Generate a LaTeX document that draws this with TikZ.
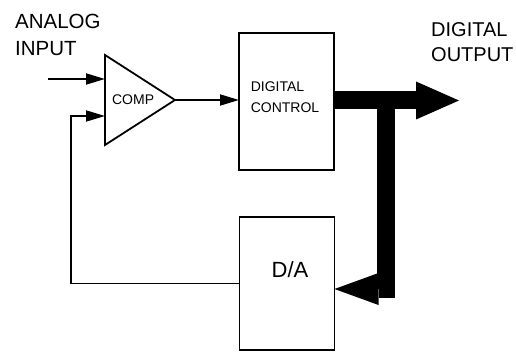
\documentclass[tikz,border=0pt]{standalone}
\usepackage{fontspec}
\setmainfont{Liberation Sans}
\usetikzlibrary{arrows.meta,positioning,shapes.geometric,calc}
\tikzset{
  block/.style={rectangle,draw,line width=1.8pt,inner sep=0pt,outer sep=0pt},
  comparator/.style={isosceles triangle,isosceles triangle stretches,draw,line width=1.8pt,
    minimum width=90pt,minimum height=70pt,inner sep=0pt,outer sep=0pt,
    font=\fontsize{14}{16}\selectfont},
  sig/.style={draw,line width=1.8pt,-{Triangle[length=19pt,width=11pt]}},
  bus/.style={draw,line width=18pt},
  bigtext/.style={font=\fontsize{20.5}{27}\selectfont,align=left,inner sep=0pt},
  smalltext/.style={font=\fontsize{14}{21}\selectfont,align=left,inner sep=0pt},
}
\begin{document}
\begin{tikzpicture}[x=1pt,y=-1pt]
  \useasboundingbox (0,0) rectangle (516,352);

  % labels
  \node[bigtext,anchor=north west] (ain) at (15,14) {ANALOG\\INPUT};
  \node[bigtext,anchor=north west,font=\fontsize{20}{25}\selectfont] (dlbl) at (431,22) {DIGITAL\\OUTPUT};

  % comparator, control logic and converter
  \node[comparator,anchor=west] (comp) at (105,100) {COMP};
  \node[block,minimum width=95pt,minimum height=137pt] (dc) at (286.5,101.5) {};
  \node[smalltext] at (285,97.5) {DIGITAL\\CONTROL};
  \node[block,minimum width=95pt,minimum height=133pt] (da) at (287,283.5) {};
  \node[font=\fontsize{22}{24}\selectfont,inner sep=0pt] at (290,270) {D/A};

  % signal lines
  \coordinate (ain end) at (48,79);
  \coordinate (fb) at (71,116);
  \draw[sig] (ain end) -- (ain end -| comp.west);
  \draw[sig] (da.west) -| (fb) -- (fb -| comp.west);
  \draw[sig] (comp.apex) -- (comp.apex -| dc.west);

  % output bus and tap back to the D/A
  \coordinate (dout) at (459,100.5);
  \coordinate (tap) at (386,100.5);
  \draw[bus,-{Triangle[length=43pt,width=38pt,line width=0pt]}] (dc.east |- dout) -- (dout);
  \draw[bus,-{Triangle[length=44pt,width=32pt,line width=0pt]}] (tap) |- ([yshift=-5.5pt]da.east);
\end{tikzpicture}
\end{document}
